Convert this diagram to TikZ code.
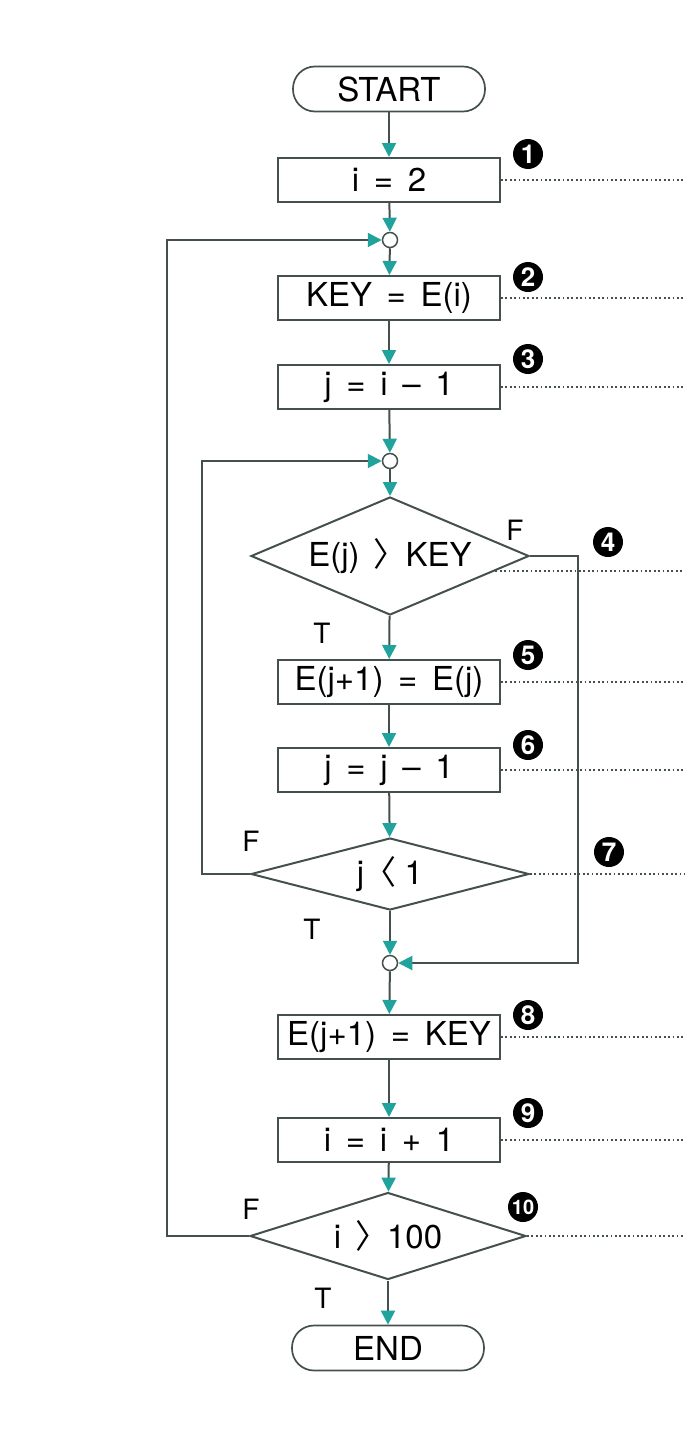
\documentclass[tikz,border=0pt]{standalone}
\usepackage{fontspec}
\setmainfont{TeX Gyre Heros}
\newfontfamily\cjk[RawFeature=+palt]{Noto Sans CJK KR}
\usetikzlibrary{shapes.geometric,arrows.meta}
\definecolor{flowline}{HTML}{44504E}
\definecolor{flowtip}{HTML}{1FA39C}
\newcommand{\gtsign}{{\cjk 〉}}
\newcommand{\ltsign}{{\cjk 〈}}

\tikzset{
  flow/.style={draw=flowline, line width=2pt, -{Triangle[length=14pt,width=14pt,color=flowtip]}},
  procbox/.style={draw=flowline, line width=2pt, fill=white, minimum width=222pt, minimum height=44pt, inner sep=0pt, font=\fontsize{33}{33}\selectfont},
  termbox/.style={draw=flowline, line width=1.7pt, fill=white, rounded corners=22pt, minimum width=192pt, minimum height=45pt, inner sep=0pt, font=\fontsize{33}{33}\selectfont},
  decbox/.style={diamond, draw=flowline, line width=2pt, fill=white, inner sep=0pt, font=\fontsize{33}{33}\selectfont},
  joint/.style={circle, draw=flowline, line width=1.5pt, fill=white, minimum size=15pt, inner sep=0pt},
  badge/.style={circle, fill=black, text=white, inner sep=0pt, minimum size=30pt, font=\bfseries\fontsize{26}{26}\selectfont},
  note/.style={draw=flowline, line width=1.8pt, dash pattern=on 1.8pt off 2.6pt},
  branch/.style={inner sep=0pt, font=\fontsize{28}{28}\selectfont}
}

\begin{document}
\begin{tikzpicture}[x=1pt,y=-1pt]
\useasboundingbox[fill=white] (0,0) rectangle (685,1440);
\coordinate (rim) at (685,0);

% main column
\node[termbox] (start) at (389,89) {START};
\node[procbox] (b1) at (389,180) {i \,=\, 2};
\node[joint] (j1) at (390,240) {};
\node[procbox] (b2) at (389,298) {KEY \,=\, E(i)};
\node[procbox] (b3) at (389,387) {j \,=\, i \,\textendash\, 1};
\node[joint] (j2) at (390,461) {};
\node[decbox, aspect=2.36, minimum width=278pt, minimum height=118pt] (d1) at (390,556) {E(j) \,\gtsign\, KEY};
\node[procbox] (b5) at (389,682) {E(j+1) \,=\, E(j)};
\node[procbox] (b6) at (389,770) {j \,=\, j \,\textendash\, 1};
\node[decbox, aspect=3.86, minimum width=278pt, minimum height=72pt] (d2) at (390,874) {j \,\ltsign{} 1};
\node[joint] (j3) at (390,963) {};
\node[procbox] (b8) at (389,1037) {E(j+1) \,=\, KEY};
\node[procbox] (b9) at (389,1140) {i \,=\, i \,+\, 1};
\node[decbox, aspect=3.17, minimum width=276pt, minimum height=87pt] (d3) at (388,1236) {i \,\gtsign\, 100};
\node[termbox] (end) at (388,1348) {END};

% loop corners
\coordinate (fbend) at (578,963);
\coordinate (lp2) at (202,461);
\coordinate (lp1) at (167,240);

% branch labels
\node[branch] (f1) at (515,530) {F};
\node[branch] (t1) at (322,633) {T};
\node[branch] (f2) at (251,841) {F};
\node[branch] (t2) at (312,929) {T};
\node[branch] (f3) at (251,1209) {F};
\node[branch] (t3) at (323,1298) {T};

% step numbers
\node[badge] (n1) at (528,154) {1};
\node[badge] (n2) at (528,277) {2};
\node[badge] (n3) at (528,359) {3};
\node[badge] (n4) at (608,542) {4};
\node[badge] (n5) at (528,655) {5};
\node[badge] (n6) at (528,745) {6};
\node[badge] (n7) at (609,852) {7};
\node[badge] (n8) at (528,1015) {8};
\node[badge] (n9) at (528,1113) {9};
\node[badge, font=\bfseries\fontsize{20}{20}\selectfont] (n10) at (523,1207) {10};

% connectors
\draw[flow] (start) -- (b1);
\draw[flow] (b1) -- (j1);
\draw[flow] (j1) -- (b2);
\draw[flow] (b2) -- (b3);
\draw[flow] (b3) -- (j2);
\draw[flow] (j2) -- (d1);
\draw[flow] (d1) -- (b5);
\draw[flow] (b5) -- (b6);
\draw[flow] (b6) -- (d2);
\draw[flow] (d2) -- (j3);
\draw[flow] (d1.east) -| (fbend) -- (j3);
\draw[flow] (d2.west) -| (lp2) -- (j2);
\draw[flow] (j3) -- (b8);
\draw[flow] (b8) -- (b9);
\draw[flow] (b9) -- (d3);
\draw[flow] (d3) -- (end);
\draw[flow] (d3.west) -| (lp1) -- (j1);

% dotted leaders
\draw[note] (b1.east) -- (b1.east -| rim);
\draw[note] (b2.east) -- (b2.east -| rim);
\draw[note] (b3.east) -- (b3.east -| rim);
\draw[note] (d1.-8) -- (d1.-8 -| rim);
\draw[note] (b5.east) -- (b5.east -| rim);
\draw[note] (b6.east) -- (b6.east -| rim);
\draw[note] (d2.east) -- (d2.east -| rim);
\draw[note] (b8.east) -- (b8.east -| rim);
\draw[note] (b9.east) -- (b9.east -| rim);
\draw[note] (d3.east) -- (d3.east -| rim);
\end{tikzpicture}
\end{document}
